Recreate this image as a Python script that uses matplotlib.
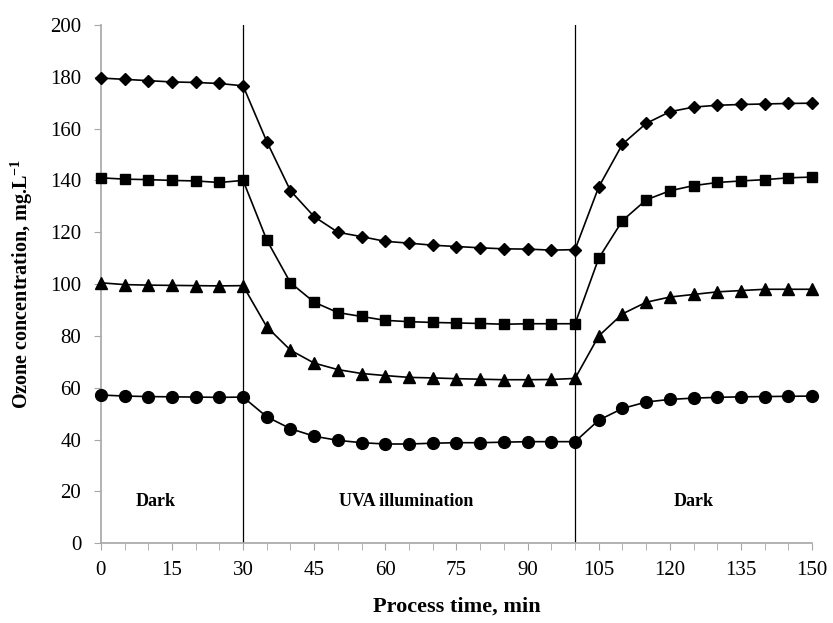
import matplotlib
matplotlib.use("Agg")
import matplotlib.pyplot as plt

plt.rcParams["font.family"] = ["Liberation Serif", "DejaVu Serif"]
plt.rcParams["mathtext.fontset"] = "custom"
plt.rcParams["mathtext.rm"] = "Liberation Serif"
plt.rcParams["mathtext.bf"] = "Liberation Serif:bold"

time_min = list(range(0, 155, 5))

diamond = [179.5, 179.0, 178.5, 178.0, 177.8, 177.4, 176.5,
           155.0, 136.0, 126.0, 120.0, 118.3, 116.5, 115.8, 115.0, 114.5,
           114.0, 113.6, 113.5, 113.1, 113.3,
           137.5, 154.0, 162.0, 166.5, 168.3, 169.0, 169.3, 169.5, 169.7, 169.8]
square = [141.0, 140.5, 140.3, 140.0, 139.8, 139.2, 140.0,
          117.0, 100.5, 93.0, 89.0, 87.5, 86.0, 85.5, 85.2, 85.0,
          84.8, 84.5, 84.7, 84.7, 84.7,
          110.0, 124.5, 132.5, 136.0, 138.0, 139.2, 139.8, 140.3, 141.0, 141.3]
triangle = [100.5, 99.8, 99.6, 99.5, 99.4, 99.3, 99.4,
            83.5, 74.5, 69.5, 67.0, 65.5, 64.7, 64.0, 63.8, 63.5,
            63.3, 63.1, 63.1, 63.2, 63.6,
            80.0, 88.5, 93.0, 95.0, 96.0, 97.0, 97.5, 98.0, 98.0, 98.0]
circle = [57.2, 56.8, 56.6, 56.5, 56.4, 56.3, 56.4,
          48.8, 44.2, 41.3, 39.7, 38.8, 38.3, 38.3, 38.6, 38.8,
          38.8, 39.0, 39.2, 39.2, 39.2,
          47.5, 52.0, 54.5, 55.5, 56.0, 56.3, 56.5, 56.6, 56.7, 56.8]

phase_bounds = [30, 100]
phase_labels = ["Dark", "UVA illumination", "Dark"]
phase_label_x = [11.5, 64.5, 125.0]
phase_label_y = 16

x_ticks = list(range(0, 151, 15))
y_ticks = list(range(0, 201, 20))

fig = plt.figure(figsize=(8.33, 6.23), dpi=100)
ax = fig.add_axes([0.121, 0.128, 0.854, 0.832])

series = [(diamond, "D", 6.5), (square, "s", 7.5), (triangle, "^", 8), (circle, "o", 8.5)]
for vals, mk, ms in series:
    ax.plot(time_min, vals, color="black", lw=1.2, marker=mk, ms=ms,
            markerfacecolor="black", markeredgecolor="black", clip_on=False, zorder=3)

for xb in phase_bounds:
    ax.axvline(xb, color="black", lw=0.9, zorder=2)

for lbl, xl in zip(phase_labels, phase_label_x):
    ax.text(xl, phase_label_y, lbl, ha="center", va="center",
            fontsize=13, fontweight="bold")

ax.set_xlim(0, 150)
ax.set_ylim(0, 200)
ax.set_xticks(x_ticks)
ax.set_xticks(time_min, minor=True)
ax.set_yticks(y_ticks)

for side in ("top", "right"):
    ax.spines[side].set_visible(False)
for side in ("left", "bottom"):
    ax.spines[side].set_color("#a6a6a6")
    ax.spines[side].set_linewidth(1.2)

ax.tick_params(axis="both", which="both", direction="out", color="#a6a6a6",
               labelsize=15)
ax.tick_params(axis="x", which="both", length=5, pad=8)
ax.tick_params(axis="y", length=5, pad=9)

ax.set_xlabel("Process time, min", fontsize=16, fontweight="bold", labelpad=12)
ax.set_ylabel("Ozone concentration, mg.L$^{\\mathbf{-1}}$", fontsize=14.5,
              fontweight="bold", labelpad=11)

fig.savefig("out.png", dpi=100)
